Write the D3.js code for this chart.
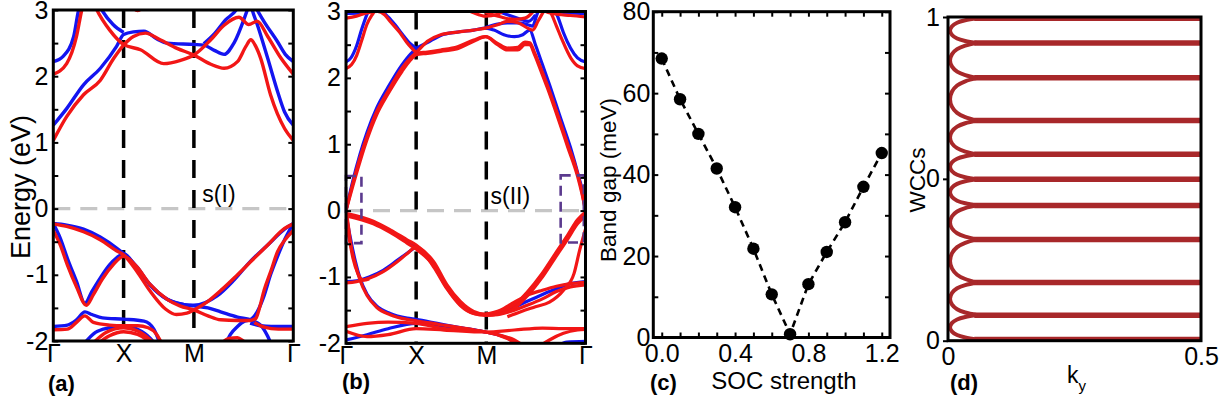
<!DOCTYPE html>
<html><head><meta charset="utf-8">
<script src="https://cdn.jsdelivr.net/npm/d3@7"></script>
<style>body{margin:0;background:#fff}svg{display:block}</style>
</head><body><svg id="c" width="1229" height="412"></svg>
<script>
// ---------------- data ----------------
const kLabels = ["Γ","X","M","Γ"];
const kPos = [0, 1, 2, 3.414];
const energyTicks = [-2,-1,0,1,2,3];
const energyMinor = [-2,-1.5,-1,-0.5,0,0.5,1,1.5,2,2.5,3];

const bandsA_blue = [
 [[0,1.26],[0.19,1.51],[0.43,1.87],[0.67,2.12],[0.9,2.45],[1,2.63],[1.14,2.67],[1.29,2.68],[1.48,2.56],[1.62,2.5],[2,2.48],[2.14,2.47],[2.29,2.39],[2.43,2.33],[2.57,2.5],[2.76,3.0],[2.86,3.3]],
 [[0,2.22],[0.14,2.3],[0.29,2.6],[0.36,3.0],[0.52,3.35],[0.69,3.0],[0.85,2.78],[1,2.66]],
 [[2.14,2.49],[2.3,2.65],[2.45,2.85],[2.6,3.0],[2.7,3.2]],
 [[2.75,3.3],[2.9,3.0],[3.0,2.82],[3.19,2.52],[3.3,2.33],[3.414,2.22]],
 [[2.76,3.3],[2.83,3.0],[2.905,2.77],[3.05,2.27],[3.19,1.77],[3.29,1.46],[3.414,1.26]],
 [[0,-0.226],[0.19,-0.25],[0.43,-0.31],[0.667,-0.43],[0.905,-0.6],[1,-0.68],[1.19,-0.88],[1.38,-1.16],[1.62,-1.37],[1.86,-1.45],[2,-1.46],[2.33,-1.32],[2.57,-1.08],[2.81,-0.79],[3.05,-0.55],[3.29,-0.31],[3.414,-0.226]],
 [[0,-0.226],[0.1,-0.45],[0.2,-0.75],[0.33,-1.1],[0.45,-1.43],[0.55,-1.25],[0.667,-1.05],[0.8,-0.85],[0.905,-0.74],[1,-0.68],[1.19,-0.9],[1.38,-1.15],[1.62,-1.37],[1.86,-1.45],[2,-1.47],[2.2,-1.5],[2.38,-1.56],[2.62,-1.64],[2.83,-1.69],[2.95,-1.76],[3.05,-1.93],[3.1,-2.05]],
 [[2.45,-2.05],[2.52,-1.9],[2.62,-1.78],[2.72,-1.7],[2.8,-1.68],[2.9,-1.56],[3.0,-1.31],[3.09,-1.0],[3.19,-0.72],[3.29,-0.47],[3.414,-0.226]],
 [[2.8,-1.73],[2.95,-1.77],[3.1,-1.78],[3.414,-1.78]],
 [[0,-1.78],[0.2,-1.76],[0.33,-1.68],[0.45,-1.56],[0.55,-1.6],[0.7,-1.65],[1,-1.67],[1.29,-1.7],[1.43,-1.82],[1.52,-2.05]],
 [[0.43,-2.05],[0.6,-1.87],[0.8,-1.8],[1,-1.77],[1.19,-1.82],[1.38,-1.96],[1.45,-2.05]]
];
const bandsA_red = [
 [[0,1.03],[0.19,1.39],[0.43,1.72],[0.67,1.94],[0.86,2.27],[1,2.47],[1.14,2.6],[1.31,2.65],[1.52,2.55],[1.76,2.42],[2,2.32],[2.24,2.18],[2.43,2.12],[2.62,2.22],[2.74,2.45],[2.81,2.55],[2.88,2.45],[2.95,2.27],[3.09,1.72],[3.29,1.21],[3.414,1.03]],
 [[0,2.03],[0.19,2.19],[0.33,2.6],[0.405,3.0],[0.5,3.3],[0.62,3.0],[0.8,2.7],[1,2.48],[1.24,2.4],[1.57,2.19],[1.81,2.24],[2,2.32],[2.24,2.55],[2.43,2.77],[2.64,2.89],[2.78,2.78],[2.9,2.83],[3.05,2.6],[3.24,2.27],[3.414,2.03]],
 [[1.05,3.2],[1.2,2.99],[1.35,3.2]],
 [[0,-0.23],[0.19,-0.27],[0.43,-0.35],[0.667,-0.47],[0.905,-0.64],[1,-0.7],[1.19,-0.95],[1.38,-1.25],[1.6,-1.52],[1.75,-1.6],[1.9,-1.58],[2,-1.53],[2.2,-1.4],[2.4,-1.22],[2.6,-1.02],[2.81,-0.8],[3.05,-0.55],[3.29,-0.3],[3.414,-0.23]],
 [[0,-0.33],[0.1,-0.55],[0.2,-0.85],[0.33,-1.18],[0.47,-1.46],[0.57,-1.3],[0.7,-1.06],[0.85,-0.85],[1,-0.72],[1.19,-0.88],[1.38,-1.15],[1.62,-1.37],[1.8,-1.47],[2,-1.53],[2.2,-1.62],[2.38,-1.68],[2.62,-1.69],[2.8,-1.69],[2.88,-1.66],[2.92,-1.55],[3.0,-1.23],[3.1,-0.93],[3.19,-0.65],[3.29,-0.48],[3.414,-0.33]],
 [[0,-1.83],[0.2,-1.82],[0.33,-1.72],[0.45,-1.62],[0.57,-1.72],[0.8,-1.76],[1,-1.77],[1.2,-1.77],[1.35,-1.8],[1.47,-1.9],[1.55,-2.05]],
 [[0.55,-2.05],[0.75,-1.87],[1,-1.8],[1.2,-1.85],[1.4,-2.0],[1.45,-2.05]],
 [[0.62,-2.05],[0.8,-1.92],[1,-1.86],[1.2,-1.9],[1.35,-2.0],[1.4,-2.05]],
 [[2.86,-1.72],[3.0,-1.79],[3.2,-1.82],[3.414,-1.82]],
 [[2.38,-2.05],[2.5,-1.96],[2.62,-1.95],[2.7,-2.0],[2.76,-2.05]]
];

const bandsB_blue = [
 [[0,0],[0.1,0.46],[0.2,0.85],[0.3,1.18],[0.44,1.55],[0.6,1.86],[0.8,2.2],[0.92,2.36],[1.0,2.44],[1.16,2.53],[1.35,2.64],[1.59,2.69],[1.82,2.72],[1.99,2.75],[2.11,2.72],[2.25,2.65],[2.4,2.62],[2.52,2.65],[2.62,2.72],[2.7,2.5],[2.8,2.2],[2.9,1.9],[3.05,1.42],[3.2,0.95],[3.32,0.5],[3.38,0.25],[3.414,0]],
 [[1.99,2.76],[2.16,2.81],[2.3,2.83],[2.45,2.83],[2.59,2.8],[2.66,2.78],[2.72,2.95],[2.77,3.08]],
 [[0,2.97],[0.2,2.98],[0.4,3.0],[0.5,3.0],[0.6,2.92],[0.7,2.8],[0.8,2.66],[0.9,2.53],[1.0,2.45]],
 [[0,2.24],[0.07,2.3],[0.15,2.48],[0.22,2.72],[0.3,2.96],[0.35,3.08]],
 [[2.95,3.08],[3.02,2.92],[3.1,2.68],[3.2,2.45],[3.3,2.3],[3.414,2.24]],
 [[2.85,3.05],[3.0,3.0],[3.2,2.98],[3.414,2.97]],
 [[2.05,3.05],[2.3,2.95],[2.5,2.88],[2.6,2.85],[2.7,2.95]],
 [[0,-0.06],[0.39,-0.18],[0.63,-0.31],[0.87,-0.47],[1.0,-0.56],[1.25,-0.8],[1.44,-1.15],[1.63,-1.4],[1.82,-1.54],[1.99,-1.57],[2.2,-1.53],[2.4,-1.44],[2.59,-1.25],[2.78,-1.0],[2.97,-0.7],[3.16,-0.4],[3.3,-0.17],[3.414,-0.05]],
 [[0,-1.07],[0.15,-1.06],[0.33,-1.0],[0.53,-0.9],[0.73,-0.75],[1.0,-0.54]],
 [[0,-0.05],[0.06,-0.4],[0.13,-0.75],[0.2,-1.02],[0.3,-1.26],[0.44,-1.44],[0.63,-1.55],[0.87,-1.62],[1.0,-1.64],[1.3,-1.7],[1.6,-1.76],[1.99,-1.83]],
 [[0,-1.95],[0.3,-1.87],[0.6,-1.78],[1,-1.7],[1.4,-1.74],[1.99,-1.83],[2.3,-1.92],[2.5,-2.05]],
 [[1.99,-1.57],[2.3,-1.5],[2.6,-1.36],[2.9,-1.22],[3.2,-1.1],[3.414,-1.07]],
 [[3.0,-2.05],[3.15,-1.98],[3.414,-1.97]]
];
const bandsB_red = [
 [[0,0],[0.1,0.42],[0.2,0.8],[0.3,1.12],[0.44,1.5],[0.6,1.8],[0.8,2.15],[0.92,2.3],[1.0,2.37],[1.16,2.39],[1.35,2.42],[1.59,2.47],[1.82,2.57],[1.99,2.62],[2.16,2.52],[2.3,2.45],[2.45,2.46],[2.55,2.54],[2.62,2.53],[2.68,2.4],[2.78,2.14],[2.87,1.89],[3.02,1.44],[3.16,1.0],[3.3,0.56],[3.36,0.3],[3.414,0]],
 [[0,0],[0.1,0.38],[0.2,0.74],[0.3,1.07],[0.44,1.45],[0.6,1.76],[0.8,2.1],[0.92,2.27],[1.0,2.35],[1.16,2.37],[1.35,2.4],[1.59,2.44],[1.82,2.55],[1.99,2.62],[2.16,2.5],[2.3,2.42],[2.45,2.42],[2.55,2.5],[2.62,2.5],[2.68,2.37],[2.78,2.1],[2.87,1.85],[3.02,1.4],[3.16,0.96],[3.3,0.52],[3.36,0.27],[3.414,0]],
 [[0.92,2.3],[1.0,2.38],[1.16,2.55],[1.35,2.65],[1.59,2.69],[1.82,2.72],[1.99,2.75],[2.16,2.8],[2.3,2.85],[2.45,2.83],[2.59,2.75],[2.66,2.72],[2.74,2.86],[2.8,2.97],[2.86,3.08]],
 [[0,2.9],[0.15,2.93],[0.3,2.98],[0.45,3.0],[0.55,2.95],[0.63,2.85],[0.77,2.68],[0.87,2.53],[1.0,2.38]],
 [[0,2.14],[0.08,2.2],[0.153,2.34],[0.22,2.55],[0.296,2.8],[0.39,2.98],[0.45,3.08]],
 [[2.85,3.08],[2.92,2.98],[3.0,2.78],[3.07,2.6],[3.21,2.29],[3.3,2.18],[3.414,2.14]],
 [[2.75,3.08],[2.85,3.0],[2.95,2.97],[3.2,2.94],[3.414,2.92]],
 [[1.6,3.08],[1.8,2.99],[1.99,2.93],[2.16,2.96],[2.3,3.05]],
 [[1.85,3.08],[1.99,2.99],[2.2,2.92],[2.4,2.88],[2.55,2.9],[2.65,2.98],[2.7,3.05]],
 [[0,-0.04],[0.39,-0.16],[0.63,-0.29],[0.87,-0.44],[1.0,-0.52],[1.25,-0.77],[1.44,-1.12],[1.63,-1.37],[1.82,-1.52],[1.99,-1.56],[2.2,-1.52],[2.4,-1.42],[2.59,-1.22],[2.78,-0.97],[2.97,-0.67],[3.16,-0.37],[3.3,-0.14],[3.414,-0.02]],
 [[0,-0.08],[0.39,-0.2],[0.63,-0.33],[0.87,-0.49],[1.0,-0.58],[1.25,-0.83],[1.44,-1.17],[1.63,-1.42],[1.82,-1.55],[1.99,-1.58],[2.2,-1.55],[2.4,-1.47],[2.59,-1.28],[2.78,-1.03],[2.97,-0.73],[3.16,-0.43],[3.3,-0.2],[3.414,-0.08]],
 [[0,-1.09],[0.15,-1.07],[0.33,-1.02],[0.53,-0.92],[0.73,-0.77],[0.87,-0.65],[1.0,-0.55],[1.25,-0.85],[1.44,-1.18],[1.63,-1.43],[1.82,-1.55],[1.99,-1.57]],
 [[0,0],[0.03,-0.2],[0.06,-0.45],[0.13,-0.8],[0.2,-1.05],[0.3,-1.28],[0.44,-1.46],[0.63,-1.57],[0.87,-1.64],[1.0,-1.66],[1.35,-1.72],[1.6,-1.76],[1.99,-1.83],[2.2,-1.88],[2.4,-1.95],[2.55,-2.05]],
 [[0,-0.22],[0.05,-0.45],[0.1,-0.72],[0.17,-0.95],[0.25,-1.05],[0.33,-1.03]],
 [[0,-1.75],[0.3,-1.7],[0.6,-1.68],[1,-1.7],[1.4,-1.78],[1.99,-1.83],[2.3,-1.93],[2.5,-2.05]],
 [[0,-1.82],[0.3,-1.9],[0.6,-1.87],[1,-1.78],[1.4,-1.8],[1.99,-1.83],[2.4,-1.8],[2.8,-1.77],[3.1,-1.78],[3.414,-1.78]],
 [[1.99,-1.56],[2.2,-1.5],[2.4,-1.38],[2.6,-1.27],[2.8,-1.2],[3.0,-1.14],[3.2,-1.1],[3.414,-1.08]],
 [[1.99,-1.58],[2.2,-1.56],[2.4,-1.5],[2.6,-1.42],[2.8,-1.33],[3.0,-1.22],[3.2,-1.15],[3.414,-1.12]],
 [[2.3,-1.6],[2.5,-1.52],[2.7,-1.45],[2.9,-1.38],[3.1,-1.2],[3.25,-0.95],[3.33,-0.6],[3.414,-0.28]],
 [[2.75,-2.05],[2.9,-1.95],[3.1,-1.85],[3.3,-1.8],[3.414,-1.79]]
];
// purple boxes in (b): [k0, k1, E0, E1]
const boxesB = [[0,0.22,-0.49,0.52],[3.06,3.39,-0.48,0.53]];

const socStrength = [0,0.1,0.2,0.3,0.4,0.5,0.6,0.7,0.8,0.9,1.0,1.1,1.2];
const bandGap = [68.5,58.5,50,41.5,32,21.8,10.6,0.8,13.1,21,28.3,37,45.3];
const socTicks = [0,0.4,0.8,1.2];
const socMinor = [0,0.1,0.2,0.3,0.4,0.5,0.6,0.7,0.8,0.9,1.0,1.1,1.2];
const gapTicks = [0,20,40,60,80];
const gapMinor = [0,10,20,30,40,50,60,70,80];

const wccLevels = [0.004,0.079,0.18,0.313,0.418,0.499,0.576,0.68,0.812,0.92,0.996];
const loopT = [0,0.08,0.18,0.32,0.5,0.68,0.82,0.92,1];
const loopK = [0.058,0.034,0.018,0.008,0.004,0.008,0.018,0.034,0.058];
const kyTicks = [0,0.5];
const kyTickLabels = ["0","0.5"];
const wccTicks = [0,0.5,1];
const wccTickLabels = ["0","0","1"];

// ---------------- drawing ----------------
const FONT = '"Liberation Sans", Arial, Helvetica, sans-serif';
const svg = d3.select("#c").attr("font-family", FONT);
const BLUE = "#1414f0", RED = "#f21616";

function styleAxis(a, size){
  a.select(".domain").remove();
  a.selectAll("text").attr("font-size", size).attr("font-family", FONT).attr("fill", "#000");
  a.selectAll("line").attr("stroke", "#000").attr("stroke-width", 2);
}

function bandPanel(cfg){
  const g = svg.append("g");
  const x = d3.scaleLinear().domain([0, kPos[3]]).range([cfg.x0, cfg.x1]);
  const y = d3.scaleLinear().domain([-2, 3]).range([cfg.y1, cfg.y0]);
  const cid = cfg.id + "clip";
  svg.append("clipPath").attr("id", cid).append("rect")
    .attr("x", cfg.x0).attr("y", cfg.y0).attr("width", cfg.x1 - cfg.x0).attr("height", cfg.y1 - cfg.y0);
  const inner = g.append("g").attr("clip-path", `url(#${cid})`);
  inner.append("line").attr("x1", cfg.x0).attr("x2", cfg.x1).attr("y1", y(0)).attr("y2", y(0))
    .attr("stroke", "#c6c6c6").attr("stroke-width", 3.2).attr("stroke-dasharray", "17,10");
  inner.selectAll(".vd").data(kPos.slice(1, 3)).join("line")
    .attr("x1", d => x(d)).attr("x2", d => x(d)).attr("y1", cfg.y0).attr("y2", cfg.y1)
    .attr("stroke", "#000").attr("stroke-width", 3.5).attr("stroke-dasharray", "18,12");
  const line = d3.line().x(d => x(d[0])).y(d => y(d[1])).curve(d3.curveMonotoneX);
  inner.selectAll(".bl").data(cfg.blue).join("path").attr("d", line)
    .attr("fill", "none").attr("stroke", BLUE).attr("stroke-width", cfg.lw).attr("stroke-linejoin", "round");
  inner.selectAll(".rd").data(cfg.red).join("path").attr("d", line)
    .attr("fill", "none").attr("stroke", RED).attr("stroke-width", cfg.lw).attr("stroke-linejoin", "round");
  if (cfg.boxes){
    g.selectAll(".bx").data(cfg.boxes).join("rect")
      .attr("x", d => x(d[0])).attr("y", d => y(d[3]))
      .attr("width", d => x(d[1]) - x(d[0])).attr("height", d => y(d[2]) - y(d[3]))
      .attr("fill", "none").attr("stroke", "#5b3a8e").attr("stroke-width", 2.6).attr("stroke-dasharray", "10,6");
  }
  styleAxis(g.append("g").attr("transform", `translate(${cfg.x0},0)`)
    .call(d3.axisLeft(y).tickValues(energyMinor).tickSize(-5).tickFormat("")), 25);
  styleAxis(g.append("g").attr("transform", `translate(${cfg.x1},0)`)
    .call(d3.axisRight(y).tickValues(energyMinor).tickSize(-5).tickFormat("")), 25);
  styleAxis(g.append("g").attr("transform", `translate(${cfg.x0 - 1},0)`)
    .call(d3.axisLeft(y).tickValues(energyTicks).tickSize(0).tickPadding(cfg.pad).tickFormat(d => String(d))), 25);
  styleAxis(g.append("g").attr("transform", `translate(0,${cfg.y1})`)
    .call(d3.axisBottom(x).tickValues(kPos).tickSize(0).tickPadding(3).tickFormat((d, i) => kLabels[i])), 25);
  g.append("rect").attr("x", cfg.x0).attr("y", cfg.y0).attr("width", cfg.x1 - cfg.x0).attr("height", cfg.y1 - cfg.y0)
    .attr("fill", "none").attr("stroke", "#000").attr("stroke-width", 3);
  g.append("text").attr("x", x(cfg.tagK)).attr("y", y(0) - 7).attr("font-size", 23).text(cfg.tag);
  return {x, y};
}

bandPanel({id:"a", x0:53.3, x1:293.3, y0:10, y1:341, blue:bandsA_blue, red:bandsA_red, lw:3.4, pad:4, tag:"s(I)", tagK:2.12});
bandPanel({id:"b", x0:346, x1:585.5, y0:11.5, y1:343.3, blue:bandsB_blue, red:bandsB_red, lw:3.2, pad:4, boxes:boxesB, tag:"s(II)", tagK:2.06});

svg.append("text").attr("transform", "translate(30,187) rotate(-90)").attr("text-anchor", "middle")
  .attr("font-size", 27).text("Energy (eV)");
svg.append("clipPath").attr("id", "bt").append("rect").attr("x", 310).attr("y", 0).attr("width", 40).attr("height", 412);
svg.append("text").attr("clip-path", "url(#bt)").attr("transform", "translate(324,190) rotate(-90)").attr("text-anchor", "middle")
  .attr("font-size", 27).text("Energy (eV)");

// (c)
(function(){
  const x0 = 653.3, x1 = 890, y0 = 11.7, y1 = 337.5;
  const x = d3.scaleLinear().domain([-0.046, 1.245]).range([x0, x1]);
  const y = d3.scaleLinear().domain([0, 80]).range([y1, y0]);
  const g = svg.append("g");
  const pts = socStrength.map((s, i) => [s, bandGap[i]]);
  g.append("path").datum(pts).attr("d", d3.line().x(d => x(d[0])).y(d => y(d[1])))
    .attr("fill", "none").attr("stroke", "#000").attr("stroke-width", 2.6).attr("stroke-dasharray", "7,5");
  g.selectAll("circle").data(pts).join("circle").attr("cx", d => x(d[0])).attr("cy", d => y(d[1])).attr("r", 6.2).attr("fill", "#000");
  styleAxis(g.append("g").attr("transform", `translate(0,${y1})`).call(d3.axisBottom(x).tickValues(socMinor).tickSize(-5).tickFormat("")), 25);
  styleAxis(g.append("g").attr("transform", `translate(0,${y0})`).call(d3.axisTop(x).tickValues(socMinor).tickSize(-5).tickFormat("")), 25);
  styleAxis(g.append("g").attr("transform", `translate(${x0},0)`).call(d3.axisLeft(y).tickValues(gapMinor).tickSize(-5).tickFormat("")), 25);
  styleAxis(g.append("g").attr("transform", `translate(${x1},0)`).call(d3.axisRight(y).tickValues(gapMinor).tickSize(-5).tickFormat("")), 25);
  styleAxis(g.append("g").attr("transform", `translate(0,${y1})`).call(d3.axisBottom(x).tickValues(socTicks).tickSize(0).tickPadding(7).tickFormat(d3.format(".1f"))), 25);
  styleAxis(g.append("g").attr("transform", `translate(${x0},0)`).call(d3.axisLeft(y).tickValues(gapTicks).tickSize(0).tickPadding(3).tickFormat(d => String(d))), 25);
  g.append("rect").attr("x", x0).attr("y", y0).attr("width", x1 - x0).attr("height", y1 - y0)
    .attr("fill", "none").attr("stroke", "#000").attr("stroke-width", 3);
  svg.append("text").attr("transform", "translate(616,180) rotate(-90)").attr("text-anchor", "middle")
    .attr("font-size", 22.5).text("Band gap (meV)");
  svg.append("text").attr("x", 784).attr("y", 389).attr("text-anchor", "middle").attr("font-size", 24).text("SOC strength");
})();

// (d)
(function(){
  const x0 = 948, x1 = 1201, y0 = 17, y1 = 340.7;
  const x = d3.scaleLinear().domain([0, 0.5]).range([x0, x1]);
  const y = d3.scaleLinear().domain([0, 1]).range([y1, y0]);
  const g = svg.append("g");
  const BR = "#a8282a";
  svg.append("clipPath").attr("id", "dclip").append("rect").attr("x", x0).attr("y", y0 - 1).attr("width", x1 - x0 + 3).attr("height", y1 - y0 + 2);
  const inner = g.append("g").attr("clip-path", "url(#dclip)");
  const hl = d3.line().x(d => x(d[0])).y(d => y(d[1]));
  inner.selectAll(".wl").data(wccLevels).join("path")
    .attr("d", v => hl([[loopK[0] - 0.006, v], [0.5, v]]))
    .attr("fill", "none").attr("stroke", BR).attr("stroke-width", 5.5);
  const pairs = d3.pairs(wccLevels);
  const lp = d3.line().x(d => x(d[0])).y(d => y(d[1])).curve(d3.curveCatmullRom.alpha(0.5));
  inner.selectAll(".lp").data(pairs).join("path")
    .attr("d", p => lp(loopT.map((t, i) => [loopK[i], p[0] + (p[1] - p[0]) * t])))
    .attr("fill", "none").attr("stroke", BR).attr("stroke-width", 4);
  styleAxis(g.append("g").attr("transform", `translate(${x0},0)`).call(d3.axisLeft(y).tickValues(wccTicks).tickSize(0).tickPadding(8).tickFormat((d, i) => wccTickLabels[i])), 25);
  styleAxis(g.append("g").attr("transform", `translate(${x0},0)`).call(d3.axisLeft(y).tickValues(wccTicks).tickSize(5).tickFormat("")), 25);
  styleAxis(g.append("g").attr("transform", `translate(0,${y1})`).call(d3.axisBottom(x).tickValues(kyTicks).tickSize(0).tickPadding(7).tickFormat((d, i) => kyTickLabels[i])), 25);
  g.append("rect").attr("x", x0).attr("y", y0).attr("width", x1 - x0).attr("height", y1 - y0)
    .attr("fill", "none").attr("stroke", "#000").attr("stroke-width", 3);
  svg.append("text").attr("transform", "translate(925,180) rotate(-90)").attr("text-anchor", "middle")
    .attr("font-size", 22.5).text("WCCs");
  const kt = svg.append("text").attr("x", 1067).attr("y", 383).attr("font-size", 23);
  kt.append("tspan").text("k");
  kt.append("tspan").attr("font-size", 15).attr("dy", 8).text("y");
})();

[["(a)",48,391],["(b)",342,389],["(c)",650,390],["(d)",950,390]].forEach(t => {
  svg.append("text").attr("x", t[1]).attr("y", t[2]).attr("font-size", 22).attr("font-weight", "bold").text(t[0]);
});
</script>
</body></html>
